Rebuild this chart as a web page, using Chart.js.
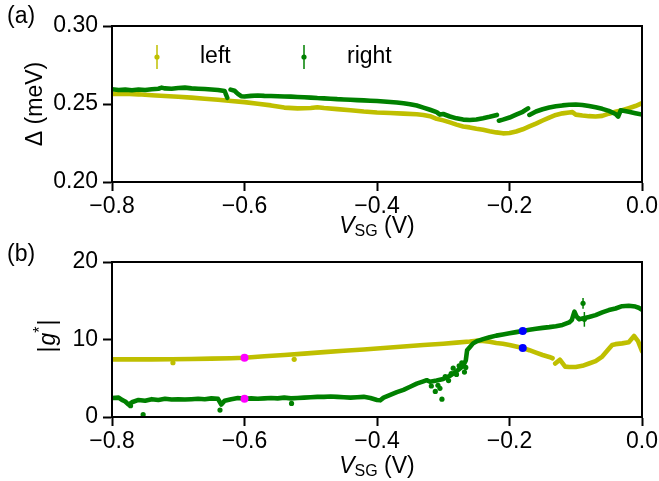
<!DOCTYPE html>
<html>
<head>
<meta charset="utf-8">
<script src="https://cdn.jsdelivr.net/npm/chart.js@4"></script>
<style>
  html, body { margin: 0; padding: 0; background: #fff; }
  #wrap { position: relative; width: 659px; height: 481px; }
  canvas { position: absolute; left: 0; }
  #gapChart { top: 0; }
  #gChart { top: 240px; }
</style>
</head>
<body>
<div id="wrap">
  <canvas id="gapChart" width="659" height="240"></canvas>
  <canvas id="gChart" width="659" height="241"></canvas>
</div>
<script>
// ---- axis ticks ----
const vsgTicks = [-0.8, -0.6, -0.4, -0.2, 0.0];
const deltaTicks = [0.20, 0.25, 0.30];
const gTicks = [0, 10, 20];

// ---- (a) superconducting gap, meV ----
const rightDeltaV = [
  -0.80, -0.79, -0.78, -0.77, -0.76, -0.75, -0.74, -0.73, -0.725, -0.72,
  -0.71, -0.70, -0.69, -0.68, -0.67, -0.66, -0.65, -0.64, -0.63, -0.626,
  -0.624, -0.621, -0.615, -0.61, -0.605, -0.60, -0.59, -0.58, -0.57, -0.56,
  -0.55, -0.54, -0.53, -0.52, -0.51, -0.50, -0.49, -0.48, -0.47, -0.46,
  -0.45, -0.44, -0.43, -0.42, -0.41, -0.40, -0.39, -0.38, -0.37, -0.36,
  -0.35, -0.34, -0.33, -0.32, -0.31, -0.305, -0.30, -0.29, -0.28, -0.27,
  -0.26, -0.25, -0.24, -0.23, -0.219, -0.217, -0.216, -0.21, -0.20, -0.19,
  -0.18, -0.172, -0.171, -0.170, -0.16, -0.15, -0.14, -0.13, -0.12, -0.11,
  -0.10, -0.09, -0.08, -0.07, -0.06, -0.05, -0.04, -0.036, -0.032, -0.02,
  -0.01, 0.00
];
const rightDelta = [
  0.2595, 0.2590, 0.2592, 0.2588, 0.2593, 0.2590, 0.2595, 0.2598, 0.2605, 0.2600,
  0.2598, 0.2603, 0.2605, 0.2600, 0.2598, 0.2596, 0.2593, 0.2590, 0.2583, 0.2540,
  null, 0.2592, 0.2585, 0.2565, 0.2550, 0.2548, 0.2552, 0.2554, 0.2552, 0.2551,
  0.2550, 0.2548, 0.2547, 0.2545, 0.2543, 0.2541, 0.2538, 0.2536, 0.2534, 0.2531,
  0.2529, 0.2527, 0.2525, 0.2523, 0.2521, 0.2519, 0.2516, 0.2513, 0.2510, 0.2505,
  0.2499, 0.2490, 0.2477, 0.2463, 0.2448, 0.2432, 0.2436, 0.2420, 0.2408, 0.2400,
  0.2397, 0.2401, 0.2409, 0.2418, 0.2430, null, 0.2393, 0.2400, 0.2413, 0.2432,
  0.2450, 0.2472, null, 0.2430, 0.2452, 0.2466, 0.2477, 0.2485, 0.2491, 0.2495,
  0.2497, 0.2494, 0.2487, 0.2479, 0.2469, 0.2456, 0.2436, 0.2419, 0.2460, 0.2450,
  0.2441, 0.2432
];
const leftDeltaV = [
  -0.80, -0.78, -0.76, -0.74, -0.72, -0.70, -0.68, -0.66, -0.64, -0.62,
  -0.60, -0.58, -0.56, -0.54, -0.52, -0.50, -0.49, -0.48, -0.46, -0.44,
  -0.42, -0.40, -0.38, -0.36, -0.34, -0.33, -0.32, -0.31, -0.30, -0.29,
  -0.28, -0.27, -0.26, -0.25, -0.24, -0.23, -0.22, -0.21, -0.20, -0.19,
  -0.18, -0.17, -0.16, -0.15, -0.14, -0.13, -0.12, -0.11, -0.105, -0.10,
  -0.09, -0.08, -0.07, -0.06, -0.05, -0.04, -0.03, -0.02, -0.01, 0.00
];
const leftDelta = [
  0.2565, 0.2566, 0.2562, 0.2556, 0.2551, 0.2546, 0.2541, 0.2534, 0.2527, 0.2519,
  0.2512, 0.2501, 0.2491, 0.2477, 0.2472, 0.2474, 0.2479, 0.2474, 0.2467, 0.2460,
  0.2452, 0.2446, 0.2442, 0.2438, 0.2434, 0.2430, 0.2422, 0.2405, 0.2395, 0.2382,
  0.2368, 0.2356, 0.2350, 0.2342, 0.2335, 0.2326, 0.2318, 0.2312, 0.2314, 0.2324,
  0.2338, 0.2356, 0.2374, 0.2394, 0.2413, 0.2430, 0.2440, 0.2446, 0.2448, 0.2432,
  0.2426, 0.2422, 0.2420, 0.2424, 0.2438, 0.2450, 0.2460, 0.2473, 0.2487, 0.2505
];

// ---- (b) effective g-factor ----
const leftGV = [
  -0.80, -0.77, -0.74, -0.71, -0.68, -0.65, -0.62, -0.60, -0.57, -0.54,
  -0.51, -0.48, -0.45, -0.42, -0.39, -0.36, -0.33, -0.30, -0.28, -0.26,
  -0.25, -0.24, -0.23, -0.22, -0.21, -0.20, -0.19, -0.18, -0.17, -0.16,
  -0.15, -0.14, -0.135, -0.134, -0.131, -0.124, -0.116, -0.11, -0.10, -0.09,
  -0.08, -0.07, -0.06, -0.05, -0.045, -0.04, -0.03, -0.02, -0.012, -0.006,
  0.00
];
const leftG = [
  7.44, 7.44, 7.43, 7.45, 7.48, 7.53, 7.58, 7.65, 7.83, 8.00,
  8.18, 8.37, 8.55, 8.72, 8.90, 9.10, 9.28, 9.45, 9.60, 9.75,
  9.85, 9.80, 9.70, 9.55, 9.45, 9.30, 9.10, 8.90, 8.62, 8.30,
  8.00, 7.75, 7.58, null, 6.90, 7.40, 6.50, 6.45, 6.45, 6.60,
  6.90, 7.20, 7.80, 8.80, 9.30, 9.40, 9.50, 9.65, 10.45, 9.80,
  8.50
];
const rightGV = [
  -0.80, -0.79, -0.785, -0.78, -0.775, -0.77, -0.76, -0.75, -0.74, -0.73,
  -0.72, -0.71, -0.70, -0.69, -0.68, -0.67, -0.66, -0.65, -0.64, -0.635,
  -0.63, -0.62, -0.61, -0.60, -0.59, -0.58, -0.57, -0.56, -0.55, -0.54,
  -0.53, -0.52, -0.51, -0.50, -0.49, -0.48, -0.47, -0.46, -0.45, -0.44,
  -0.43, -0.42, -0.41, -0.40, -0.395, -0.39, -0.38, -0.37, -0.36, -0.35,
  -0.34, -0.33, -0.325, -0.32, -0.31, -0.30, -0.29, -0.28, -0.27, -0.266,
  -0.264, -0.26, -0.255, -0.25, -0.24, -0.23, -0.22, -0.21, -0.20, -0.19,
  -0.18, -0.17, -0.16, -0.15, -0.14, -0.13, -0.12, -0.11, -0.106, -0.102,
  -0.099, -0.095, -0.09, -0.08, -0.07, -0.06, -0.05, -0.04, -0.03, -0.02,
  -0.01, -0.005, 0.00
];
const rightG = [
  2.45, 2.50, 2.20, 2.00, 1.60, 1.90, 2.20, 2.10, 2.30, 2.20,
  2.35, 2.25, 2.30, 2.25, 2.30, 2.35, 2.30, 2.40, 2.35, 1.60,
  2.10, 2.30, 2.45, 2.35, 2.40, 2.35, 2.40, 2.45, 2.40, 2.50,
  2.40, 2.45, 2.50, 2.55, 2.60, 2.60, 2.65, 2.60, 2.55, 2.50,
  2.55, 2.60, 2.45, 2.20, 2.15, 2.50, 2.85, 3.20, 3.50, 3.90,
  4.30, 4.60, 4.75, 4.55, 4.70, 4.90, 5.30, 5.90, 6.60, 7.30,
  8.60, 9.00, 9.50, 9.75, 10.05, 10.30, 10.50, 10.65, 10.80, 10.95,
  11.10, 11.25, 11.38, 11.50, 11.60, 11.72, 11.88, 12.20, 12.50, 13.60,
  13.00, 12.60, 12.70, 12.90, 13.15, 13.50, 13.80, 14.00, 14.30, 14.35,
  14.25, 14.10, 13.85
];
// stray points off the main traces
const leftGOutV = [-0.708, -0.525];
const leftGOut = [7.00, 7.44];
const rightGOutV = [-0.772, -0.753, -0.637, -0.529, -0.318, -0.312, -0.308, -0.305, -0.302,
  -0.297, -0.292, -0.288, -0.285, -0.280, -0.276, -0.272, -0.268, -0.266];
const rightGOut = [1.45, 0.30, 0.90, 1.75, 4.00, 3.30, 4.10, 3.70, 2.30,
  5.20, 4.70, 5.60, 6.30, 5.50, 6.60, 7.00, 5.80, 6.40];
// points with visible error bars
const rightErrV = [-0.089, -0.087];
const rightErrG = [14.67, 12.60];
const rightErrSigma = [0.70, 0.95];
// selected gate voltages
const pinkV = [-0.60, -0.60];
const pinkG = [7.65, 2.35];
const blueV = [-0.18, -0.18];
const blueG = [8.90, 11.10];

const FONT = '"Liberation Sans", Arial, Helvetica, sans-serif';
const FS = 23;
const YELLOW = '#bfbf00';
const GREEN = '#008000';

function pts(xs, ys) {
  return xs.map((x, i) => ({ x: x, y: ys[i] }));
}

function fmt(decimals) {
  return v => (v < -1e-9 ? '\u2212' : '') + Math.abs(v).toFixed(decimals);
}

function trace(label, color, xs, ys, order) {
  return {
    label: label, data: pts(xs, ys), order: order,
    borderColor: color, backgroundColor: color,
    showLine: true, spanGaps: false, borderWidth: 4.6,
    borderCapStyle: 'round', borderJoinStyle: 'round',
    pointRadius: 0, pointHoverRadius: 0
  };
}

function dots(color, xs, ys, r, order, extra) {
  return Object.assign({
    data: pts(xs, ys), order: order,
    borderColor: color, backgroundColor: color,
    showLine: false, pointRadius: r, pointBorderWidth: 0, pointHoverRadius: r
  }, extra || {});
}

function axes(top, xHeight, yMin, yMax, yTicks, yDecimals) {
  const tickFont = { family: FONT, size: FS };
  const grid = { drawOnChartArea: false, tickLength: 9, tickWidth: 2, tickColor: '#000' };
  const border = { display: true, color: '#000', width: 2 };
  return {
    responsive: false,
    animation: false,
    devicePixelRatio: 1,
    layout: { padding: { left: 0, right: 17, top: top, bottom: 0 } },
    plugins: { legend: { display: false }, tooltip: { enabled: false } },
    scales: {
      x: {
        type: 'linear', min: -0.8, max: 0,
        afterBuildTicks: s => { s.ticks = vsgTicks.map(v => ({ value: v })); },
        afterFit: s => { s.height = xHeight; s.paddingLeft = 0; s.paddingRight = 0; },
        grid: grid, border: border,
        ticks: { color: '#000', font: tickFont, padding: 2, maxRotation: 0, autoSkip: false, callback: fmt(1) }
      },
      y: {
        type: 'linear', min: yMin, max: yMax,
        afterBuildTicks: s => { s.ticks = yTicks.map(v => ({ value: v })); },
        afterFit: s => { s.width = 112; },
        grid: grid, border: border,
        ticks: { color: '#000', font: tickFont, padding: 5, autoSkip: false, callback: fmt(yDecimals) }
      }
    }
  };
}

// full box round the plot area
const frame = {
  id: 'frame',
  afterDraw(chart) {
    const a = chart.chartArea, ctx = chart.ctx;
    ctx.save();
    ctx.strokeStyle = '#000';
    ctx.lineWidth = 2;
    ctx.strokeRect(a.left, a.top, a.right - a.left, a.bottom - a.top);
    ctx.restore();
  }
};

// vertical error bars for datasets that carry errorBars
const errorBars = {
  id: 'errorBars',
  afterDatasetsDraw(chart) {
    const ctx = chart.ctx, ys = chart.scales.y;
    chart.data.datasets.forEach((ds, i) => {
      if (!ds.errorBars) return;
      const meta = chart.getDatasetMeta(i);
      ctx.save();
      ctx.strokeStyle = ds.borderColor;
      ctx.lineWidth = 1.5;
      meta.data.forEach((p, j) => {
        const v = ds.data[j].y, e = ds.errorBars[j];
        ctx.beginPath();
        ctx.moveTo(p.x, ys.getPixelForValue(v - e));
        ctx.lineTo(p.x, ys.getPixelForValue(v + e));
        ctx.stroke();
      });
      ctx.restore();
    });
  }
};

function drawVsgTitle(ctx, cx, base) {
  const big = FS + 'px ' + FONT, ital = 'italic ' + big, small = '16px ' + FONT;
  ctx.font = ital; const wV = ctx.measureText('V').width;
  ctx.font = small; const wS = ctx.measureText('SG').width;
  ctx.font = big; const wR = ctx.measureText(' (V)').width;
  let x = cx - (wV + wS + wR) / 2;
  ctx.textAlign = 'left';
  ctx.textBaseline = 'alphabetic';
  ctx.font = ital; ctx.fillText('V', x, base); x += wV;
  ctx.font = small; ctx.fillText('SG', x, base + 3); x += wS;
  ctx.font = big; ctx.fillText(' (V)', x, base);
}

function drawLetter(ctx, text, y) {
  ctx.font = FS + 'px ' + FONT;
  ctx.textAlign = 'left';
  ctx.textBaseline = 'middle';
  ctx.fillText(text, 7, y);
}

const gapText = {
  id: 'gapText',
  afterDraw(chart) {
    const ctx = chart.ctx;
    ctx.save();
    ctx.fillStyle = '#000';
    drawLetter(ctx, '(a)', 17);
    drawVsgTitle(ctx, 377, 233);
    ctx.translate(36, 104);
    ctx.rotate(-Math.PI / 2);
    ctx.font = FS + 'px ' + FONT;
    ctx.textAlign = 'center';
    ctx.textBaseline = 'middle';
    ctx.fillText('\u0394 (meV)', 0, 0);
    ctx.restore();

    // legend: errorbar glyph + label for the two traces
    const items = [{ ds: chart.data.datasets[1], x: 157 }, { ds: chart.data.datasets[0], x: 304 }];
    const y = 57;
    ctx.save();
    items.forEach(it => {
      ctx.strokeStyle = it.ds.borderColor;
      ctx.fillStyle = it.ds.borderColor;
      ctx.lineWidth = 1.5;
      ctx.beginPath();
      ctx.moveTo(it.x, y - 12);
      ctx.lineTo(it.x, y + 12);
      ctx.stroke();
      ctx.beginPath();
      ctx.arc(it.x, y, 2.6, 0, Math.PI * 2);
      ctx.fill();
      ctx.fillStyle = '#000';
      ctx.font = FS + 'px ' + FONT;
      ctx.textAlign = 'left';
      ctx.textBaseline = 'middle';
      ctx.fillText(it.ds.label, it.x + 43, y);
    });
    ctx.restore();
  }
};

const gText = {
  id: 'gText',
  afterDraw(chart) {
    const ctx = chart.ctx;
    ctx.save();
    ctx.fillStyle = '#000';
    drawLetter(ctx, '(b)', 15);
    drawVsgTitle(ctx, 377, 233);
    ctx.translate(47, 96);
    ctx.rotate(-Math.PI / 2);
    const big = FS + 'px ' + FONT, ital = 'italic ' + big, small = '16px ' + FONT;
    ctx.font = big; const wBar = ctx.measureText('|').width;
    ctx.font = ital; const wG = ctx.measureText('g').width;
    ctx.font = small; const wStar = ctx.measureText('*').width;
    let x = -(2 * wBar + wG + wStar + 2) / 2;
    ctx.textAlign = 'left';
    ctx.textBaseline = 'alphabetic';
    const base = 8;
    ctx.font = big; ctx.fillText('|', x, base); x += wBar + 1;
    ctx.font = ital; ctx.fillText('g', x, base); x += wG;
    ctx.font = small; ctx.fillText('*', x, base - 10); x += wStar + 1;
    ctx.font = big; ctx.fillText('|', x, base);
    ctx.restore();
  }
};

new Chart(document.getElementById('gapChart'), {
  type: 'scatter',
  data: {
    datasets: [
      trace('right', GREEN, rightDeltaV, rightDelta, 1),
      trace('left', YELLOW, leftDeltaV, leftDelta, 2)
    ]
  },
  options: axes(26, 58, 0.20, 0.30, deltaTicks, 2),
  plugins: [frame, gapText]
});

new Chart(document.getElementById('gChart'), {
  type: 'scatter',
  data: {
    datasets: [
      dots('#ff00ff', pinkV, pinkG, 4, 0),
      dots('#0000ff', blueV, blueG, 4, 0),
      dots(GREEN, rightErrV, rightErrG, 2.6, 1, { errorBars: rightErrSigma }),
      trace('right', GREEN, rightGV, rightG, 2),
      dots(GREEN, rightGOutV, rightGOut, 2.6, 2),
      trace('left', YELLOW, leftGV, leftG, 3),
      dots(YELLOW, leftGOutV, leftGOut, 2.6, 3)
    ]
  },
  options: axes(22, 64, 0, 20, gTicks, 0),
  plugins: [frame, errorBars, gText]
});
</script>
</body>
</html>
